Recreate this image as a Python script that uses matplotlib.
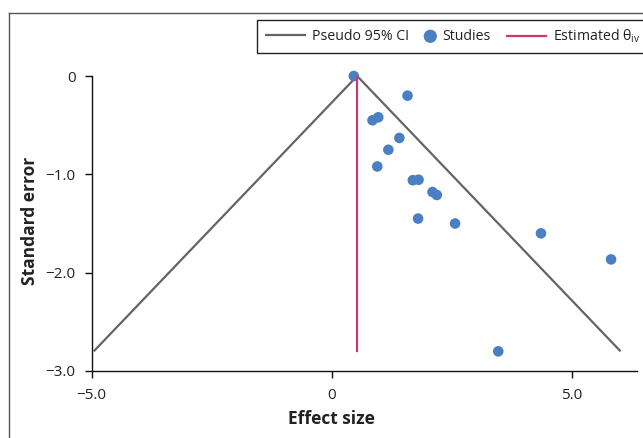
import matplotlib
matplotlib.use("Agg")
import matplotlib.pyplot as plt
from matplotlib.lines import Line2D
from matplotlib.patches import Rectangle

plt.rcParams['font.family'] = ['Open Sans', 'DejaVu Sans']
plt.rcParams['mathtext.fontset'] = 'custom'
plt.rcParams['mathtext.rm'] = 'Open Sans'
plt.rcParams['mathtext.it'] = 'Open Sans'

# Data
effect_size = [0.46, 1.58, 0.85, 0.97, 1.41, 1.18, 0.95, 1.69, 1.81, 2.10, 2.19, 1.80, 2.57, 4.36, 5.82, 3.47]
std_error = [0.0, -0.20, -0.45, -0.42, -0.63, -0.75, -0.92, -1.06, -1.055, -1.18, -1.21, -1.45, -1.50, -1.60, -1.865, -2.80]
theta_iv = 0.53
se_max = 2.80
z = 1.96
x_ticks = [-5.0, 0, 5.0]
x_tick_labels = ['\u22125.0', '0', '5.0']
y_ticks = [0, -1.0, -2.0, -3.0]
y_tick_labels = ['0', '\u22121.0', '\u22122.0', '\u22123.0']

W, H = 643, 438
fig = plt.figure(figsize=(W / 100, H / 100), dpi=100)
left, right, bottom, top = 91.7, 637, 371, 76
ax = fig.add_axes([left / W, 1 - bottom / H, (right - left) / W, (bottom - top) / H])

grey = '#646464'
red = '#d4356e'
blue = '#4a7fc4'

ci_x = [theta_iv - z * se_max, theta_iv, theta_iv + z * se_max]
ci_y = [-se_max, 0, -se_max]
h_ci, = ax.plot(ci_x, ci_y, color=grey, lw=1.6, zorder=2, solid_capstyle='butt')
h_st = ax.scatter(effect_size, std_error, s=58, color=blue, edgecolors='none', zorder=3, clip_on=False)
h_th, = ax.plot([theta_iv, theta_iv], [0, -se_max], color=red, lw=1.6, zorder=4)

ax.set_xlim(-5.0, (right - 331.7) / 48.0)
ax.set_ylim(-3.0, 0)
ax.set_xticks(x_ticks)
ax.set_xticklabels(x_tick_labels)
ax.set_yticks(y_ticks)
ax.set_yticklabels(y_tick_labels)
ax.spines['top'].set_visible(False)
ax.spines['right'].set_visible(False)
for s in ['left', 'bottom']:
    ax.spines[s].set_linewidth(1.0)
    ax.spines[s].set_color('#111111')
ax.tick_params(axis='both', direction='out', length=5, width=1.0, color='#111111',
               labelsize=11, labelcolor='#222222')
ax.tick_params(axis='x', pad=7)
ax.tick_params(axis='y', pad=6.5)
ax.set_xlabel('Effect size', fontsize=12.5, fontweight='bold', color='#222222')
ax.set_ylabel('Standard error', fontsize=12.5, fontweight='bold', color='#222222')
ax.xaxis.set_label_coords((331.5 - left) / (right - left), (bottom - 410) / (bottom - top))
ax.yaxis.set_label_coords((39 - left) / (right - left), 0.51)

# Legend frame
leg_y = 36.5
fig.add_artist(Rectangle((257 / W, 1 - 53 / H), (W + 5 - 257) / W, 33 / H, transform=fig.transFigure,
                         facecolor='white', edgecolor='#222222', lw=1.0, clip_on=False, zorder=5))
legend_items = [(h_ci, 'Pseudo 95% CI', 265, 2.9),
                (h_st, 'Studies', 425, 0.75),
                (h_th, 'Estimated θ$_{\\mathregular{iv}}$', 506.5, 2.8)]
for handle, label, xpos, hl in legend_items:
    lg = fig.legend([handle], [label], loc='center left', bbox_to_anchor=(xpos / W, 1 - leg_y / H),
                    frameon=False, fontsize=10.2, handlelength=hl, handletextpad=0.45,
                    borderpad=0, borderaxespad=0, scatterpoints=1, markerscale=1.25)
    lg.set_zorder(6)
    for t in lg.get_texts():
        t.set_color('#222222')

# figure border (left and top visible)
fig.add_artist(Line2D([8.5 / W, 8.5 / W], [0, 1 - 12.5 / H], color='#555555', lw=1.0))
fig.add_artist(Line2D([8.5 / W, 1], [1 - 12.5 / H, 1 - 12.5 / H], color='#555555', lw=1.0))

fig.savefig('out.png', dpi=100)
